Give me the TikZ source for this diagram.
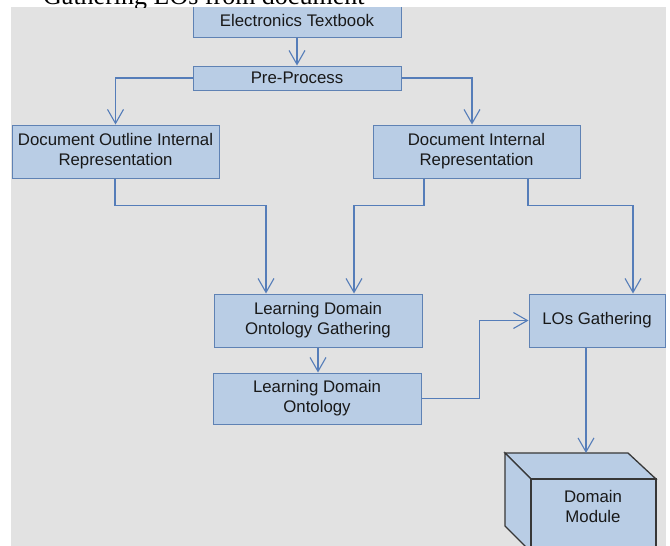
\documentclass[tikz,border=0pt]{standalone}
\usepackage{fontspec}
\setmainfont{Liberation Sans}
\newfontfamily\titlefont{Liberation Serif}
\usetikzlibrary{arrows.meta}
\definecolor{boxfill}{RGB}{185,205,229}
\definecolor{boxline}{RGB}{95,130,180}
\definecolor{linec}{RGB}{85,125,185}
\definecolor{bggray}{RGB}{226,226,226}
\definecolor{cubeline}{RGB}{55,55,55}
\definecolor{txt}{RGB}{25,25,25}
\begin{document}
\begin{tikzpicture}[x=1pt,y=-1pt,
  box/.style={draw=boxline, fill=boxfill, line width=1pt, rectangle, inner sep=0pt,
    align=center, font=\fontsize{16.8}{20}\selectfont, text=txt},
  arr/.style={draw=linec, line width=1.1pt, -{Straight Barb[length=14pt,width=16pt]}},
  cube/.style={draw=cubeline, fill=boxfill, line width=1.3pt, line join=miter},
]
\useasboundingbox (0,0) rectangle (670,546);
\clip (0,0) rectangle (670,546);
\fill[white] (0,0) rectangle (670,546);
\fill[bggray] (11,7) rectangle (666,546);

% boxes
\node[box, minimum width=208pt, minimum height=34pt] (et) at (297,20) {Electronics Textbook};
\node[box, minimum width=208pt, minimum height=24pt] (pp) at (297,78) {Pre-Process};
\node[box, minimum width=207pt, minimum height=53pt] (doi) at (115.5,151.5) {Document Outline Internal\\Representation};
\node[box, minimum width=207pt, minimum height=53pt] (di) at (476.5,151.5) {Document Internal\\Representation};
\node[box, minimum width=208pt, minimum height=53pt] (ldog) at (318,320.5) {Learning Domain\\Ontology Gathering};
\node[box, minimum width=208pt, minimum height=51pt] (ldo) at (317,398.5) {Learning Domain\\Ontology};
\node[box, minimum width=136pt, minimum height=53pt] (los) at (597,320.5) {LOs Gathering};

% 3D box (Domain Module)
\draw[cube] (505,453) -- (628,453) -- (656,479) -- (531,479) -- cycle;
\draw[cube] (505,453) -- (531,479) -- (531,552) -- (505,526) -- cycle;
\draw[cube] (531,479) rectangle (656,552);
\node[font=\fontsize{16.8}{20}\selectfont, text=txt, align=center] (dm) at (593,506) {Domain\\Module};
\coordinate (dmtop) at (586,453);

% connectors
\draw[arr] (et) -- (pp);
\draw[arr] (pp.west) -| (doi.north);
\draw[arr] (pp.east) -| ([xshift=-4.5pt]di.north);
\draw[arr] ([xshift=-0.5pt]doi.south) -- ++(0,27) -| ([xshift=-52pt]ldog.north);
\draw[arr] ([xshift=-52.5pt]di.south) -- ++(0,27) -| ([xshift=36pt]ldog.north);
\draw[arr] ([xshift=51.5pt]di.south) -- ++(0,27) -| ([xshift=36pt]los.north);
\draw[arr] (ldog.south) -- (ldog.south |- ldo.north);
\draw[arr] (ldo.east) -- ++(58,0) |- (los.west);
\draw[arr] ([xshift=-11pt]los.south) -- (dmtop);

% top white strip with clipped title
\fill[white] (0,0) rectangle (670,7);
\begin{scope}
\clip (0,0) rectangle (670,7);
\node[anchor=base west, inner sep=0pt, font=\titlefont\fontsize{26}{30}\selectfont] (title) at (43,5) {Gathering LOs from document};
\end{scope}
\end{tikzpicture}
\end{document}
